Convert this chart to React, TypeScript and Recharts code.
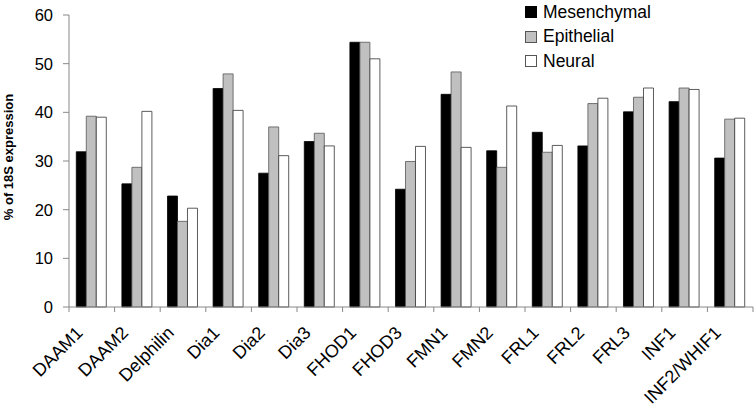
import React from "react";
import { BarChart, Bar, XAxis, YAxis, Legend } from "recharts";

const categories = ["DAAM1", "DAAM2", "Delphilin", "Dia1", "Dia2", "Dia3", "FHOD1", "FHOD3", "FMN1", "FMN2", "FRL1", "FRL2", "FRL3", "INF1", "INF2/WHIF1"];
const mesenchymal = [31.9, 25.3, 22.8, 44.9, 27.5, 34.0, 54.4, 24.2, 43.7, 32.1, 35.9, 33.1, 40.1, 42.2, 30.6];
const epithelial = [39.2, 28.7, 17.6, 47.9, 37.0, 35.7, 54.4, 29.9, 48.3, 28.7, 31.8, 41.8, 43.1, 45.0, 38.6];
const neural = [39.0, 40.2, 20.3, 40.4, 31.1, 33.1, 51.0, 33.0, 32.8, 41.3, 33.2, 42.9, 45.0, 44.7, 38.8];
const yTicks = [0, 10, 20, 30, 40, 50, 60];
const seriesNames = ["Mesenchymal", "Epithelial", "Neural"];

const data = categories.map((name, i) => ({
  name,
  Mesenchymal: mesenchymal[i],
  Epithelial: epithelial[i],
  Neural: neural[i],
}));

const FONT = "'Liberation Sans', Arial, Helvetica, sans-serif";
const AXIS = "#888888";

const XTick = (props: any) => {
  const { x, y, payload } = props;
  const off = payload && typeof payload.offset === "number" ? payload.offset : 22.8;
  const isLast = payload.value === categories[categories.length - 1];
  const tx = x - 8;
  const ty = y + 27;
  return (
    <g>
      <line x1={x - off} y1={y} x2={x - off} y2={y + 5} stroke={AXIS} strokeWidth={1} />
      {isLast && <line x1={x + off} y1={y} x2={x + off} y2={y + 5} stroke={AXIS} strokeWidth={1} />}
      <text
        x={tx}
        y={ty}
        transform={`rotate(-45 ${tx} ${ty})`}
        textAnchor="end"
        fontSize={18}
        fontFamily={FONT}
        fill="#000"
      >
        {payload.value}
      </text>
    </g>
  );
};

const YLabel = (props: any) => {
  const vb = props.viewBox || { x: 0, y: 15, width: 69, height: 292 };
  const cy = vb.y + vb.height / 2 - 4;
  const cx = 12.5;
  return (
    <text
      x={cx}
      y={cy}
      transform={`rotate(-90 ${cx} ${cy})`}
      textAnchor="middle"
      fontSize={13}
      fontWeight="bold"
      fontFamily={FONT}
      fill="#000"
    >
      % of 18S expression
    </text>
  );
};

const swatch: Record<string, { fill: string; stroke: string }> = {
  Mesenchymal: { fill: "#000000", stroke: "#000000" },
  Epithelial: { fill: "#c0c0c0", stroke: "#555555" },
  Neural: { fill: "#ffffff", stroke: "#555555" },
};

const LegendContent = () => (
  <div style={{ fontFamily: FONT, fontSize: 17.5, color: "#000" }}>
    {seriesNames.map((n) => (
      <div key={n} style={{ display: "flex", alignItems: "center", height: 24.5, whiteSpace: "nowrap" }}>
        <div
          style={{
            width: 10,
            height: 10,
            background: swatch[n].fill,
            border: `1px solid ${swatch[n].stroke}`,
            marginRight: 6,
          }}
        />
        <span>{n}</span>
      </div>
    ))}
  </div>
);

export default function App() {
  return (
    <div style={{ position: "absolute", left: 0, top: 0, width: 756, height: 411, background: "#fff" }}>
      <BarChart
        width={756}
        height={411}
        data={data}
        margin={{ top: 15, right: 3, bottom: 0, left: 0 }}
        barCategoryGap="16%"
        barGap={0}
      >
        <XAxis
          dataKey="name"
          interval={0}
          height={104}
          tickLine={false}
          tickSize={0}
          tickMargin={0}
          axisLine={{ stroke: AXIS }}
          tick={<XTick />}
        />
        <YAxis
          width={69}
          domain={[0, 60]}
          ticks={yTicks}
          interval={0}
          tickSize={6}
          tickMargin={10}
          axisLine={{ stroke: AXIS }}
          tickLine={{ stroke: AXIS }}
          tick={{ fontSize: 16.5, fontFamily: FONT, fill: "#000" }}
          label={<YLabel />}
        />
        <Legend
          layout="vertical"
          align="center"
          verticalAlign="middle"
          content={<LegendContent />}
          wrapperStyle={{ position: "absolute", left: 525, top: 0, width: 160, height: 75 }}
        />
        <Bar dataKey="Mesenchymal" fill="#000000" stroke="#000000" strokeWidth={0.8} isAnimationActive={false} />
        <Bar dataKey="Epithelial" fill="#c0c0c0" stroke="#555555" strokeWidth={0.8} isAnimationActive={false} />
        <Bar dataKey="Neural" fill="#ffffff" stroke="#333333" strokeWidth={0.8} isAnimationActive={false} />
      </BarChart>
    </div>
  );
}
